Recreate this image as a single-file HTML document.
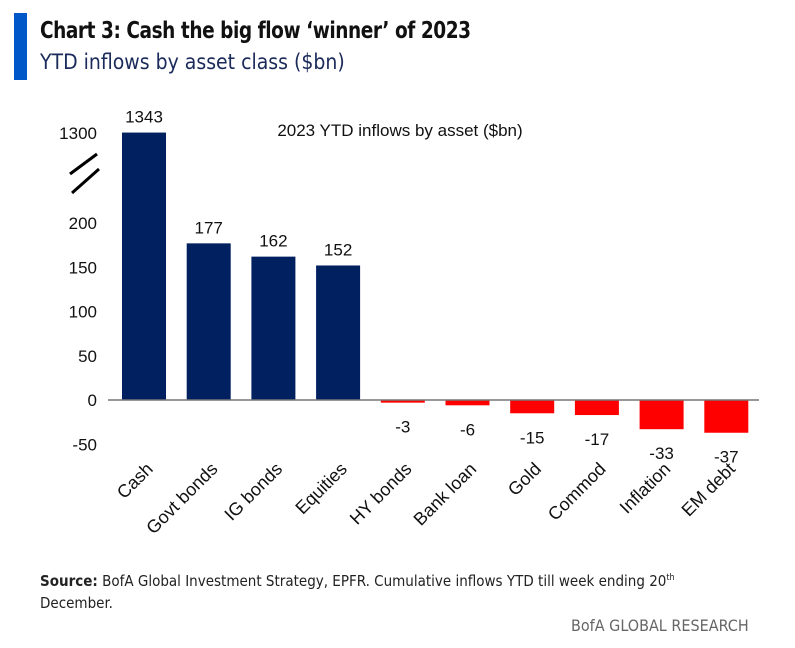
<!DOCTYPE html>
<html><head><meta charset="utf-8"><style>
body{margin:0;background:#fff;width:795px;height:648px;overflow:hidden;font-family:"Liberation Sans",sans-serif;position:relative}
.t{position:absolute;white-space:nowrap}
</style></head><body>
<div class="t" style="left:14px;top:13px;width:13px;height:67px;background:#0057c8"></div>
<div class="t" style="left:40px;top:18px;font-size:23px;font-weight:bold;color:#111;letter-spacing:-0.5px;transform:scaleX(0.895);transform-origin:0 0;font-family:'DejaVu Sans Condensed','Liberation Sans',sans-serif">Chart 3: Cash the big flow ‘winner’ of 2023</div>
<div class="t" style="left:40px;top:50px;font-size:21px;color:#1a2a5a;font-family:'DejaVu Sans Condensed','Liberation Sans',sans-serif">YTD inflows by asset class ($bn)</div>
<svg id="c" width="795" height="648" style="position:absolute;left:0;top:0"></svg>
<div class="t" style="left:40px;top:567px;font-size:15px;color:#222;line-height:22px;font-family:'DejaVu Sans Condensed','Liberation Sans',sans-serif"><b>Source:</b> BofA Global Investment Strategy, EPFR. Cumulative inflows YTD till week ending 20<sup style="font-size:9px">th</sup><br>December.</div>
<div class="t" style="left:571px;top:616px;font-size:16px;color:#666;font-family:'DejaVu Sans Condensed','Liberation Sans',sans-serif">BofA GLOBAL RESEARCH</div>
<script>
const categories=["Cash","Govt bonds","IG bonds","Equities","HY bonds","Bank loan","Gold","Commod","Inflation","EM debt"];
const values=[1343,177,162,152,-3,-6,-15,-17,-33,-37];
const tickValues=[-50,0,50,100,150,200,1300];
const NS="http://www.w3.org/2000/svg";
const svg=document.getElementById('c');
function y(v){ if(v>=1300) return 133-(v-1300)*0.01; return 400-v*0.885; }
function x(i){ return 122+i*64.7; }
const bw=44;
function mk(t,a,txt){const e=document.createElementNS(NS,t);for(const k in a)e.setAttribute(k,a[k]);if(txt!==undefined)e.textContent=txt;svg.appendChild(e);return e;}
const tl=mk('text',{x:400,y:136,'font-size':17,'text-anchor':'middle',fill:'#111'},'2023 YTD inflows by asset ($bn)');


tickValues.forEach(v=>{
 const t=mk('text',{x:97,y:y(v)+6,'font-size':17,'text-anchor':'end',fill:'#111'},String(v));
 
 
});
const br1=mk('line',{x1:70,y1:174,x2:97,y2:154,stroke:'#000','stroke-width':3});


const br2=mk('line',{x1:72,y1:193,x2:99,y2:169,stroke:'#000','stroke-width':3});


values.forEach((v,i)=>{
 const y0=y(0),yv=y(v);
 const r=mk('rect',{x:x(i),y:Math.min(y0,yv),width:bw,height:Math.abs(yv-y0),fill:v>=0?'#002060':'#ff0000'});
 
 
 const ly=v>=0?yv-10:yv+30;
 const lb=mk('text',{x:x(i)+bw/2,y:ly,'font-size':17,'text-anchor':'middle',fill:'#111'},String(v));
 
 
 const cx=x(i)+bw/2+10, cy=470;
 const cl=mk('text',{x:cx,y:cy,'font-size':18,'text-anchor':'end',fill:'#111',transform:`rotate(-45 ${cx} ${cy})`},categories[i]);
 
 
});
const ax=mk('line',{x1:108,y1:y(0),x2:759,y2:y(0),stroke:'#777','stroke-width':1.5});


</script>
</body></html>
